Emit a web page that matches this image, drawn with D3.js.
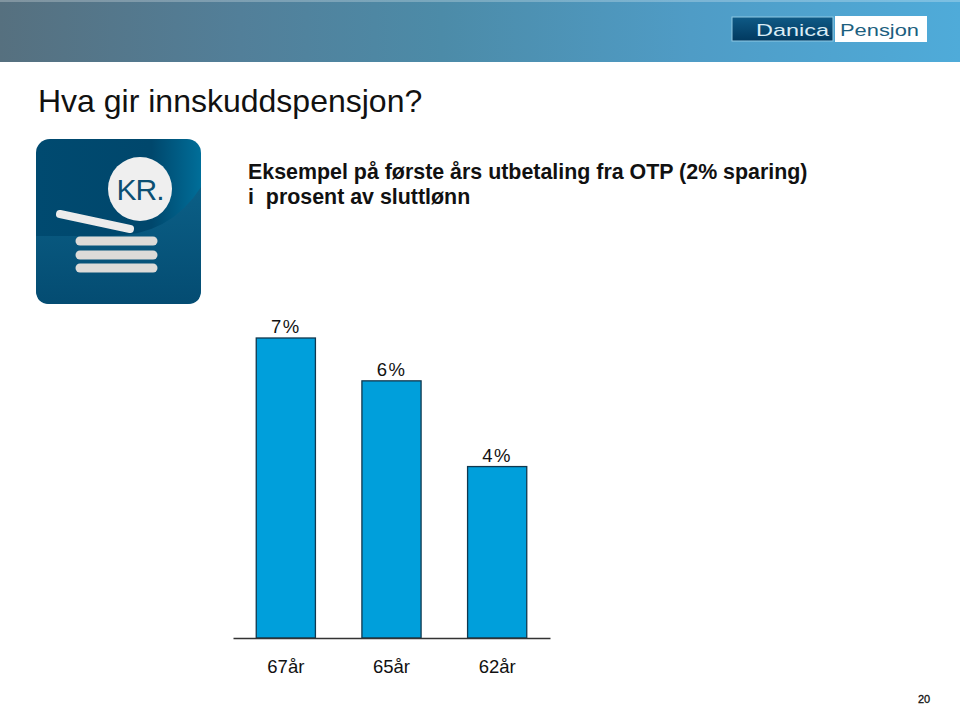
<!DOCTYPE html>
<html>
<head>
<meta charset="utf-8">
<script src="https://cdn.jsdelivr.net/npm/d3@7"></script>
<style>
  html, body { margin: 0; padding: 0; background: #fff; }
  svg { display: block; }
  text { font-family: "Liberation Sans", Arial, sans-serif; fill: #111; }
</style>
</head>
<body>
<svg id="chart"></svg>
<script>
const categories = ["67år", "65år", "62år"];
const values = [7, 6, 4];
const valueLabels = ["7%", "6%", "4%"];
const titleLines = ["Eksempel på første års utbetaling fra OTP (2% sparing)", "i  prosent av sluttlønn"];

const width = 960, height = 704;
const svg = d3.select("#chart").attr("width", width).attr("height", height);
const defs = svg.append("defs");

function gradient(id, stops, x2 = 1, y2 = 0) {
  const g = defs.append("linearGradient").attr("id", id)
    .attr("x1", 0).attr("y1", 0).attr("x2", x2).attr("y2", y2);
  stops.forEach(s => g.append("stop").attr("offset", s[0]).attr("stop-color", s[1]));
}
gradient("band", [[0, "#56707f"], [0.25, "#527f99"], [0.46, "#4c8ba8"], [0.72, "#4f9cc6"], [1, "#4fabd9"]]);
gradient("navy", [[0, "#0f5a86"], [1, "#01395f"]], 0, 1);
gradient("tile", [[0, "#004a70"], [0.7, "#00476c"], [1, "#006e99"]], 1, 0);
gradient("tileLow", [[0, "#0b5f86"], [1, "#044c72"]], 0, 1);

// top band and logo
svg.append("rect").attr("width", width).attr("height", 62).attr("fill", "url(#band)");
svg.append("rect").attr("x", 0).attr("y", 0).attr("width", width).attr("height", 2).attr("fill", "#fff").attr("opacity", 0.25);
svg.append("rect").attr("x", 732).attr("y", 17).attr("width", 101).attr("height", 24)
  .attr("fill", "url(#navy)").attr("stroke", "#8fc9e4").attr("stroke-width", 1);
svg.append("rect").attr("x", 835).attr("y", 16).attr("width", 92).attr("height", 26).attr("fill", "#fff");
svg.append("text").attr("x", 756).attr("y", 36).attr("font-size", 17)
  .attr("textLength", 73).attr("lengthAdjust", "spacingAndGlyphs")
  .style("fill", "#d9ecf5").text("Danica");
svg.append("text").attr("x", 840).attr("y", 36).attr("font-size", 17)
  .attr("textLength", 79).attr("lengthAdjust", "spacingAndGlyphs")
  .style("fill", "#1d5f7f").text("Pensjon");

// headings
svg.append("text").attr("x", 38).attr("y", 112).attr("font-size", 32).text("Hva gir innskuddspensjon?");
svg.selectAll("text.sub").data(titleLines).join("text").attr("class", "sub")
  .attr("x", 248).attr("y", (d, i) => 179 + i * 25)
  .attr("font-size", 21.4).attr("font-weight", 700)
  .style("white-space", "pre")
  .text(d => d);

// KR. icon
const icon = svg.append("g");
icon.append("rect").attr("x", 36).attr("y", 139).attr("width", 165).attr("height", 165).attr("rx", 14).attr("fill", "url(#tile)");
icon.append("path").attr("d", "M36,236 H110 Q170,236 201,187 V290 Q201,304 187,304 H50 Q36,304 36,290 Z").attr("fill", "url(#tileLow)");
icon.append("circle").attr("cx", 140).attr("cy", 189).attr("r", 32).attr("fill", "#efefef");
icon.append("text").attr("x", 140).attr("y", 200).attr("text-anchor", "middle").attr("font-size", 30)
  .attr("letter-spacing", -1).style("fill", "#0c4f73").text("KR.");
icon.append("line").attr("x1", 60).attr("y1", 214).attr("x2", 130).attr("y2", 229)
  .attr("stroke", "#ececec").attr("stroke-width", 8).attr("stroke-linecap", "round");
icon.selectAll("line.row").data([241, 255, 268]).join("line").attr("class", "row")
  .attr("x1", 80).attr("x2", 153).attr("y1", d => d).attr("y2", d => d)
  .attr("stroke", "#dddbd8").attr("stroke-width", 9).attr("stroke-linecap", "round");

// chart
const x = d3.scaleBand().domain(categories).range([233, 550]).paddingInner(0.44).paddingOuter(0.22);
const y = d3.scaleLinear().domain([0, 7]).range([638, 338]);

svg.selectAll("rect.bar").data(values).join("rect").attr("class", "bar")
  .attr("x", (d, i) => x(categories[i]))
  .attr("y", d => y(d))
  .attr("width", x.bandwidth())
  .attr("height", d => y(0) - y(d))
  .attr("fill", "#009fdb")
  .attr("stroke", "#10384f")
  .attr("stroke-width", 1.3);

svg.selectAll("text.val").data(values).join("text").attr("class", "val")
  .attr("x", (d, i) => x(categories[i]) + x.bandwidth() / 2)
  .attr("y", d => y(d) - 5)
  .attr("text-anchor", "middle")
  .attr("font-size", 18.5)
  .attr("letter-spacing", 1.5)
  .text((d, i) => valueLabels[i]);

const axis = svg.append("g").attr("transform", `translate(0,${y(0)})`)
  .call(d3.axisBottom(x).tickSize(0).tickPadding(22));
axis.select(".domain").attr("stroke", "#333").attr("stroke-width", 1.3);
axis.selectAll("text").attr("font-size", 18.5).attr("font-family", null);

svg.append("text").attr("x", 924).attr("y", 702.5).attr("text-anchor", "middle")
  .attr("font-size", 11).style("stroke", "#111").style("stroke-width", 0.3).text("20");
</script>
</body>
</html>
